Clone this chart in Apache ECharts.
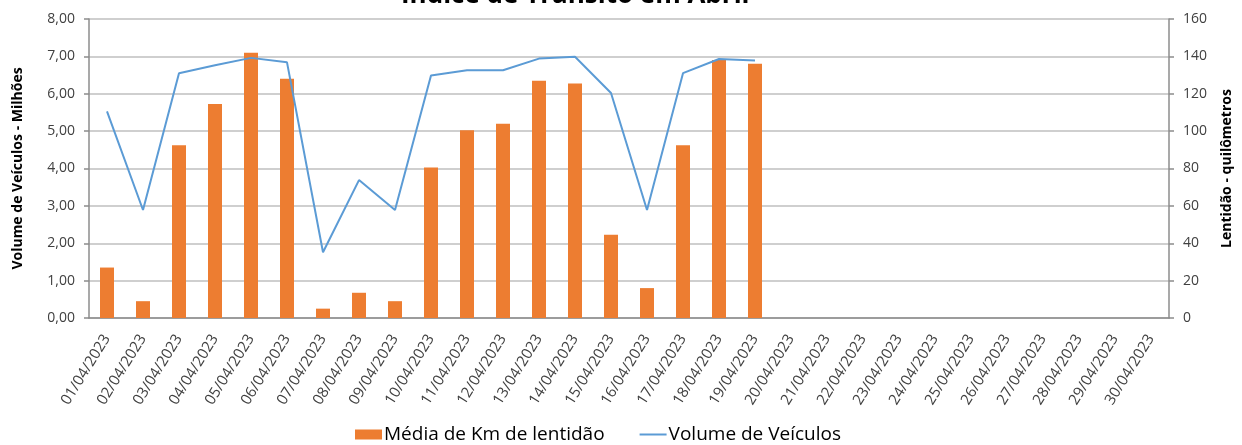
<!DOCTYPE html>
<html>
<head>
<meta charset="utf-8">
<script src="https://cdn.jsdelivr.net/npm/echarts@6/dist/echarts.min.js"></script>
<style>
  html, body { margin: 0; padding: 0; background: #fff; }
  #chart { width: 1242px; height: 445px; }
</style>
</head>
<body>
<div id="chart"></div>
<script>
// dias de abril
var dias = [];
for (var d = 1; d <= 30; d++) {
  dias.push((d < 10 ? '0' + d : '' + d) + '/04/2023');
}
// média de km de lentidão (eixo direito)
var lentidao = [27, 9, 92.5, 114.5, 142, 128, 5, 13.5, 9, 80.5, 100.5, 104, 127, 125.5, 44.5, 16, 92.5, 138, 136,
  null, null, null, null, null, null, null, null, null, null, null];
// volume de veículos em milhões (eixo esquerdo)
var volume = [5.53, 2.89, 6.55, 6.76, 6.96, 6.84, 1.76, 3.69, 2.89, 6.49, 6.63, 6.63, 6.94, 6.99, 6.02, 2.89, 6.55, 6.93, 6.89,
  null, null, null, null, null, null, null, null, null, null, null];

var fonte = 'Open Sans';
var corTexto = '#404040';
var corEixo = '#8c8c8c';

var chart = echarts.init(document.getElementById('chart'));
var option = {
  backgroundColor: '#fff',
  animation: false,
  textStyle: { fontFamily: fonte },
  title: {
    text: 'Índice de Trânsito em Abril',
    left: 396,
    top: -22,
    textStyle: { fontFamily: fonte, fontSize: 26, fontWeight: 'bold', color: '#000' }
  },
  legend: {
    left: 350,
    top: 420,
    itemWidth: 27,
    itemHeight: 10,
    itemGap: 34,
    textStyle: { fontFamily: fonte, fontSize: 19, color: '#000', padding: [0, 0, 0, -3] },
    data: [
      { name: 'Média de Km de lentidão', icon: 'rect' },
      { name: 'Volume de Veículos', itemStyle: { opacity: 0 } }
    ]
  },
  grid: { left: 89, right: 64, top: 19, bottom: 127 },
  xAxis: {
    type: 'category',
    data: dias,
    axisLine: { lineStyle: { color: corEixo, width: 1.5 } },
    axisTick: { length: 5, lineStyle: { color: corEixo, width: 1.5 } },
    axisLabel: { rotate: 58, margin: 18, fontSize: 15, color: corTexto, interval: 0 }
  },
  yAxis: [{
    type: 'value',
    min: 0, max: 8, interval: 1,
    name: 'Volume de Veículos - Milhões',
    nameLocation: 'middle',
    nameGap: 64,
    nameTextStyle: { fontFamily: fonte, fontSize: 14, fontWeight: 'bold', color: '#000' },
    axisLine: { show: true, lineStyle: { color: corEixo, width: 1.5 } },
    axisTick: { show: true, length: 5, lineStyle: { color: corEixo, width: 1.5 } },
    axisLabel: {
      margin: 14, fontSize: 14, color: corTexto,
      formatter: function (v) { return v.toFixed(2).replace('.', ','); }
    },
    splitLine: { lineStyle: { color: '#cfcfcf', width: 2 } }
  }, {
    type: 'value',
    min: 0, max: 160, interval: 20,
    name: 'Lentidão - quilômetros',
    nameLocation: 'middle',
    nameGap: 51,
    nameTextStyle: { fontFamily: fonte, fontSize: 14, fontWeight: 'bold', color: '#000' },
    axisLine: { show: true, lineStyle: { color: corEixo, width: 1.5 } },
    axisTick: { show: true, length: 5, lineStyle: { color: corEixo, width: 1.5 } },
    axisLabel: { margin: 14, fontSize: 14, color: corTexto },
    splitLine: { show: false }
  }],
  series: [{
    name: 'Média de Km de lentidão',
    type: 'bar',
    yAxisIndex: 1,
    barWidth: 14,
    itemStyle: { color: '#ED7D31' },
    data: lentidao
  }, {
    name: 'Volume de Veículos',
    type: 'line',
    yAxisIndex: 0,
    symbol: 'none',
    lineStyle: { color: '#5B9BD5', width: 2 },
    itemStyle: { color: '#5B9BD5' },
    data: volume
  }]
};
chart.setOption(option);
</script>
</body>
</html>
